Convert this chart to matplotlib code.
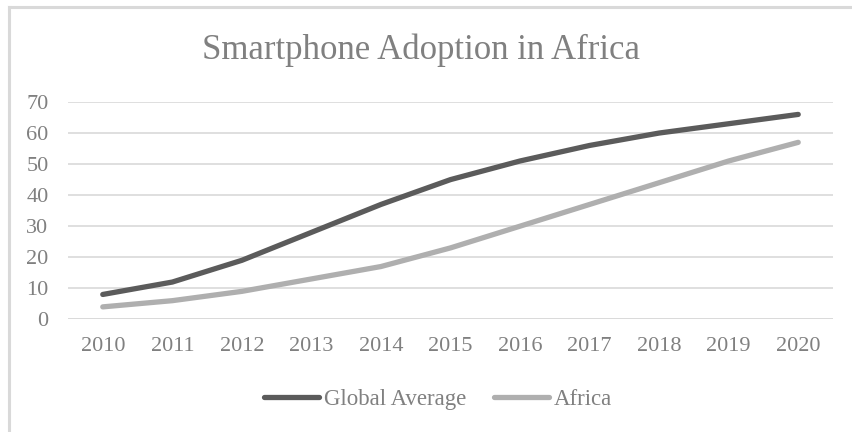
import matplotlib
matplotlib.use("Agg")
import matplotlib.pyplot as plt
from matplotlib.lines import Line2D

years = ["2010", "2011", "2012", "2013", "2014", "2015", "2016", "2017", "2018", "2019", "2020"]
global_average = [8, 12, 19, 28, 37, 45, 51, 56, 60, 63, 66]
africa = [4, 6, 9, 13, 17, 23, 30, 37, 44, 51, 57]
y_ticks = [0, 10, 20, 30, 40, 50, 60, 70]

W, H = 852, 432
TEXT = "#808080"
GRID = "#d9d9d9"
DARK = "#5b5b5b"
LIGHT = "#afafaf"
FONT = "Liberation Serif"

fig = plt.figure(figsize=(W / 100, H / 100), dpi=100)
fig.patch.set_facecolor("white")

# chart-area border (top and left edges)
fig.add_artist(Line2D([9 / W, 1], [1 - 7 / H, 1 - 7 / H], color=GRID, lw=2.2, transform=fig.transFigure))
fig.add_artist(Line2D([9 / W, 9 / W], [0, 1 - 7 / H], color=GRID, lw=2.2, transform=fig.transFigure))

left, right = 68 / W, 833 / W
bottom, top = (H - 319.3) / H, (H - 102) / H
ax = fig.add_axes([left, bottom, right - left, top - bottom])

x = list(range(len(years)))
ax.plot(x, global_average, color=DARK, lw=3.8, solid_capstyle="round", solid_joinstyle="round", label="Global Average")
ax.plot(x, africa, color=LIGHT, lw=3.8, solid_capstyle="round", solid_joinstyle="round", label="Africa")

ax.set_xlim(-0.5, len(years) - 0.5)
ax.set_ylim(0, 70)
ax.set_yticks(y_ticks)
ax.set_yticklabels([str(v) for v in y_ticks])
ax.set_xticks(x)
ax.set_xticklabels(years)
ax.grid(axis="y", color=GRID, lw=1.2)
ax.set_axisbelow(True)
for s in ax.spines.values():
    s.set_visible(False)
ax.tick_params(axis="both", length=0, colors=TEXT, labelsize=16)
ax.tick_params(axis="y", pad=14)
ax.tick_params(axis="x", pad=13)
for lbl in ax.get_xticklabels() + ax.get_yticklabels():
    lbl.set_family(FONT)
ax.axhline(0, color=GRID, lw=1.2, zorder=0.5)

fig.text(421 / W, 1 - 50 / H, "Smartphone Adoption in Africa", ha="center", va="center",
         fontsize=25, color=TEXT, family=FONT)

leg = fig.legend(loc="center", bbox_to_anchor=(438 / W, 1 - 399 / H), ncol=2, frameon=False,
                 prop={"family": FONT, "size": 16.5}, labelcolor=TEXT, handlelength=2.4,
                 handletextpad=0.2, columnspacing=1.2)

fig.savefig("out.png", dpi=100)
